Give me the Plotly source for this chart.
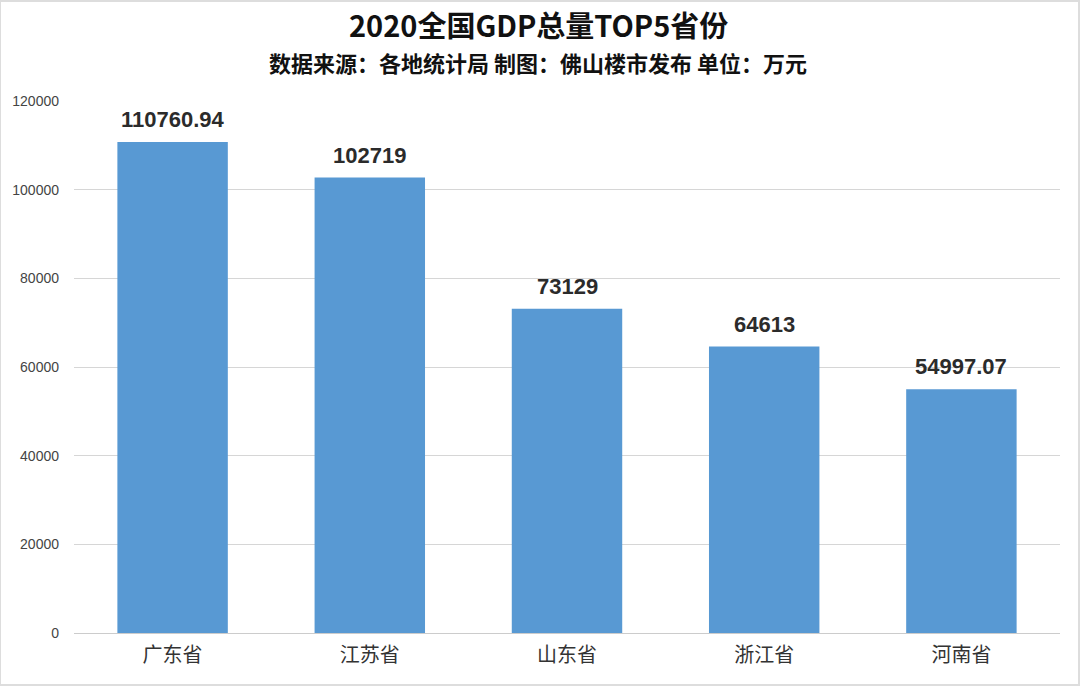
import plotly.graph_objects as go

provinces = ["广东省", "江苏省", "山东省", "浙江省", "河南省"]
gdp = [110760.94, 102719, 73129, 64613, 54997.07]
gdp_labels = ["110760.94", "102719", "73129", "64613", "54997.07"]
y_ticks = [0, 20000, 40000, 60000, 80000, 100000, 120000]

FONT = "Liberation Sans, Noto Sans CJK SC, sans-serif"

fig = go.Figure()
fig.add_trace(go.Bar(
    x=provinces, y=gdp,
    marker=dict(color="#5899d3", line=dict(width=0)),
    width=0.56,
    hoverinfo="x+y",
))

for p, v, t in zip(provinces, gdp, gdp_labels):
    fig.add_annotation(x=p, y=v, text="<b>" + t + "</b>", showarrow=False,
                       yanchor="bottom", yshift=8,
                       font=dict(family=FONT, size=22, color="#2b2b2b"))

fig.add_annotation(xref="paper", yref="paper", x=0.5, xanchor="center",
                   y=1, yshift=77, yanchor="middle", xshift=-29,
                   text="<b>2020全国GDP总量TOP5省份</b>", showarrow=False,
                   font=dict(family="Noto Sans CJK SC, Liberation Sans", size=29, color="#111"))
fig.add_annotation(xref="paper", yref="paper", x=0.5, xanchor="center",
                   y=1, yshift=39, yanchor="middle", xshift=-29,
                   text="<b>数据来源：各地统计局 制图：佛山楼市发布 单位：万元</b>", showarrow=False,
                   font=dict(family="Noto Sans CJK SC, Liberation Sans", size=22, color="#111"))

fig.update_layout(
    width=1080, height=686,
    margin=dict(l=74, r=20, t=101, b=53),
    paper_bgcolor="white", plot_bgcolor="white",
    showlegend=False,
    bargap=0.44,
    font=dict(family=FONT),
    xaxis=dict(showgrid=False, showline=True, linecolor="#cccccc", linewidth=1,
               ticks="", tickfont=dict(family="Noto Sans CJK SC", size=20, color="#333"),
               ticklabelstandoff=4),
    yaxis=dict(range=[0, 120000], tickvals=y_ticks, ticktext=[str(v) for v in y_ticks],
               showgrid=True, gridcolor="#d6d6d6", gridwidth=1, zeroline=False,
               ticks="", tickfont=dict(family=FONT, size=14, color="#444"),
               ticklabelstandoff=14),
    shapes=[dict(type="rect", xref="paper", yref="paper", x0=-74/986, x1=1+19/986,
                 y0=-52/532, y1=1+100/532, line=dict(color="#dddddd", width=2))],
)

fig.write_html("out.html")
